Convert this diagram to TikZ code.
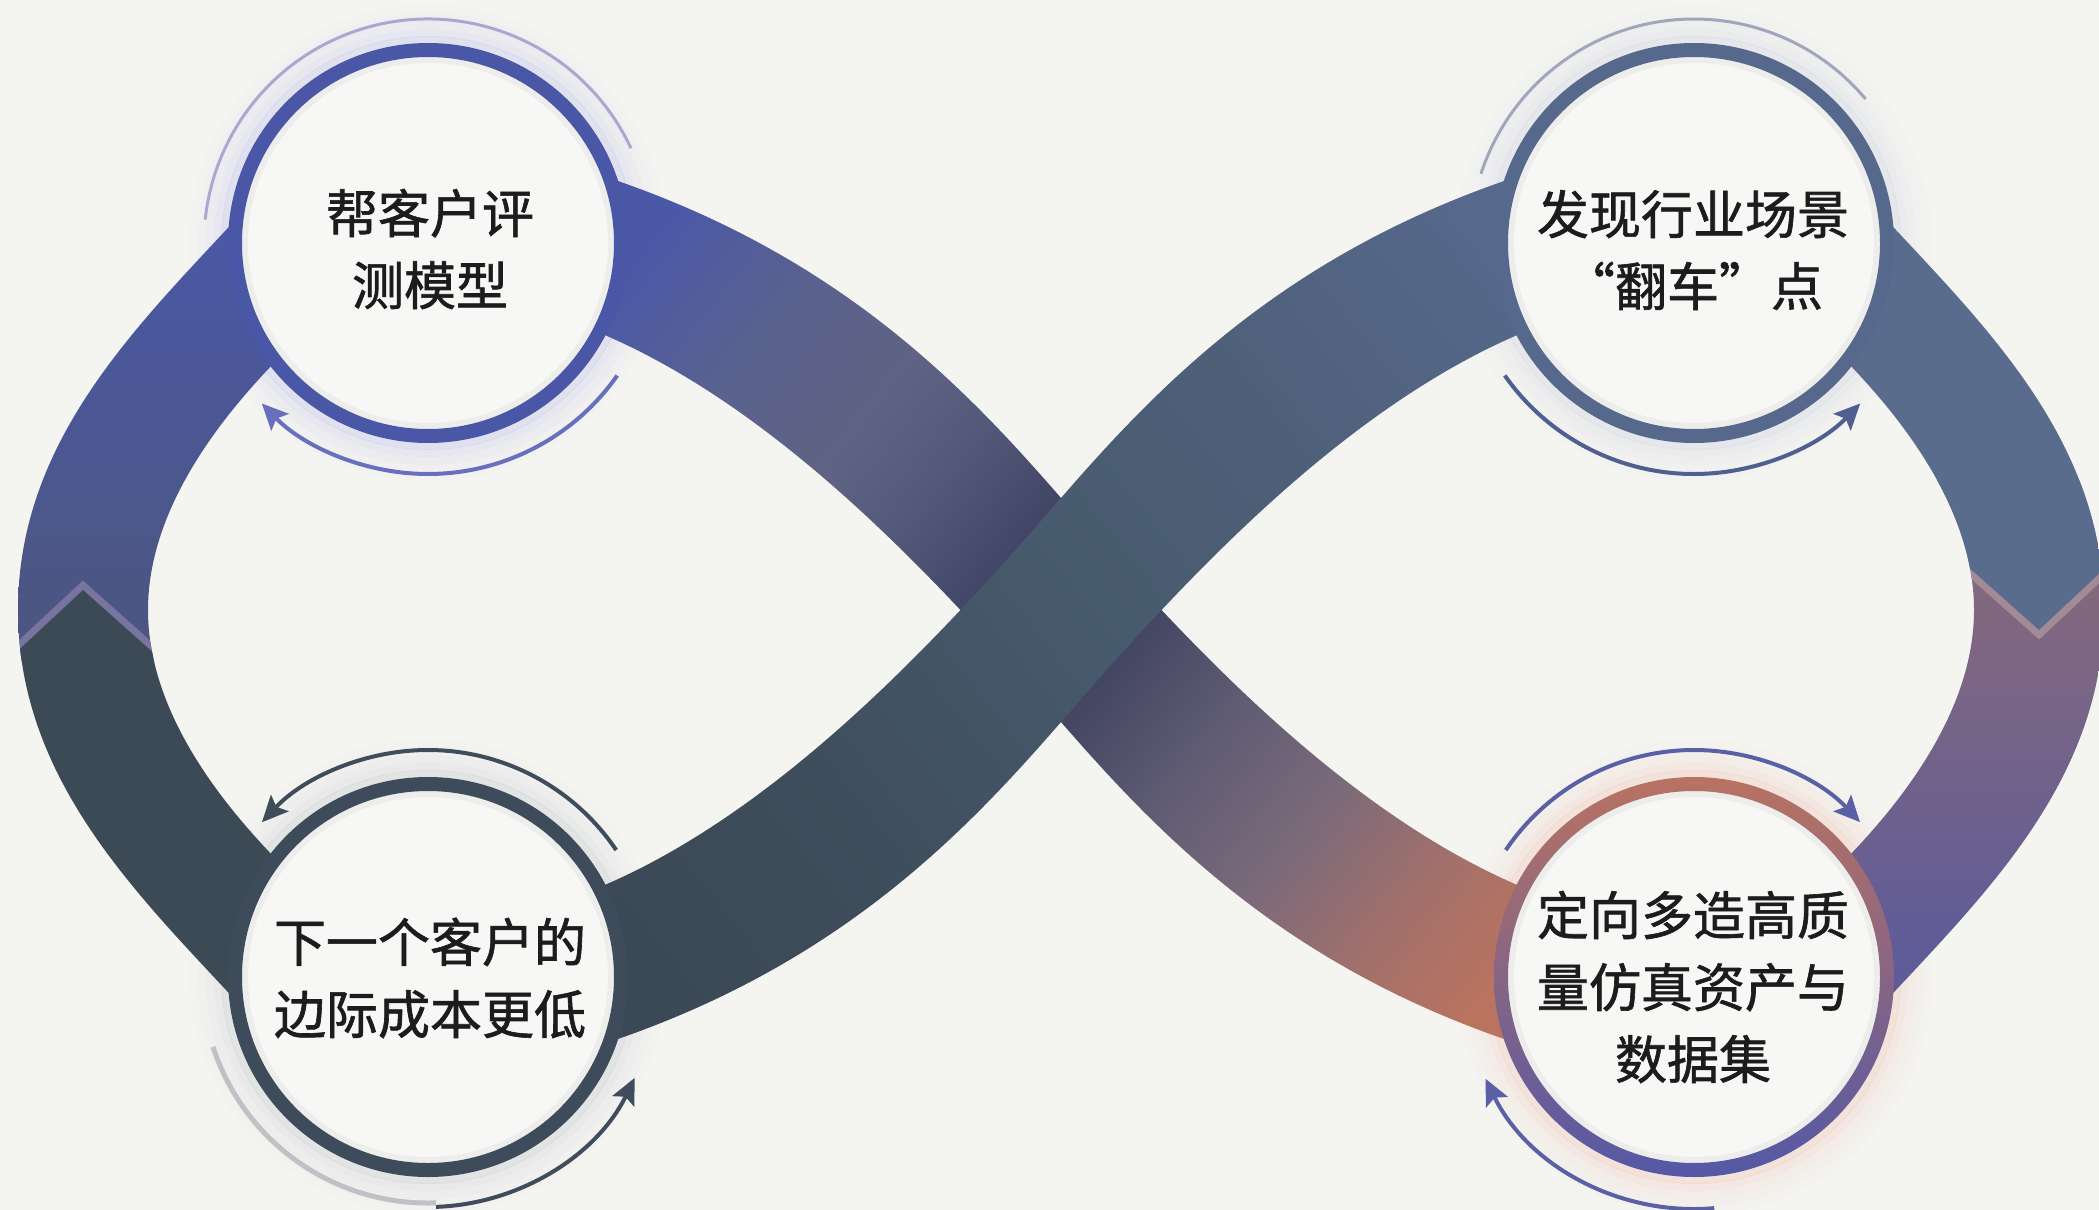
\documentclass[tikz,border=0pt]{standalone}
\usepackage{fontspec}
\newfontfamily\cjk{Noto Sans CJK SC}[FakeBold=1.2]
\usetikzlibrary{arrows.meta}

\definecolor{bg}{HTML}{F4F4F1}
\definecolor{disk}{HTML}{F7F7F5}
\definecolor{txt}{HTML}{1C1C1C}
\definecolor{ringTL}{HTML}{4A56A6}
\definecolor{ringTR}{HTML}{56688C}
\definecolor{ringBL}{HTML}{3E4B5A}
\definecolor{brTop}{HTML}{B87262}
\definecolor{brBot}{HTML}{5558A6}
\definecolor{llA}{HTML}{4B58A8}
\definecolor{llB}{HTML}{4C567E}
\definecolor{llDark}{HTML}{3C4A56}
\definecolor{llHi}{HTML}{77749F}
\definecolor{rlSlate}{HTML}{5A6C8D}
\definecolor{rlA}{HTML}{8E6C76}
\definecolor{rlB}{HTML}{5A5A9C}
\definecolor{rlHi}{HTML}{A38B96}
\definecolor{uA}{HTML}{4B58A8}
\definecolor{uB}{HTML}{5A628E}
\definecolor{uC}{HTML}{5F6383}
\definecolor{uD}{HTML}{535879}
\definecolor{uE}{HTML}{424768}
\definecolor{uEE}{HTML}{444663}
\definecolor{uF}{HTML}{5E5B73}
\definecolor{uG}{HTML}{7A6A7A}
\definecolor{uH}{HTML}{A3706B}
\definecolor{uI}{HTML}{BA735F}
\definecolor{tA}{HTML}{3B4855}
\definecolor{tB}{HTML}{3F4E5C}
\definecolor{tC}{HTML}{465A6C}
\definecolor{tD}{HTML}{4E6079}
\definecolor{tE}{HTML}{56688B}
\definecolor{arTL}{HTML}{6870BE}
\definecolor{arTR}{HTML}{4F5F90}
\definecolor{arBL}{HTML}{3F4C5B}
\definecolor{arBR}{HTML}{5A60A6}
\definecolor{haloTL}{HTML}{A8A8D0}
\definecolor{haloTR}{HTML}{A0A6BC}
\definecolor{haloBL}{HTML}{A9AFB7}
\definecolor{glTL}{HTML}{C9CAEE}
\definecolor{glTR}{HTML}{D3D8E4}
\definecolor{glBL}{HTML}{CDD1D6}
\definecolor{glBR}{HTML}{F2CDBE}

\pgfdeclarehorizontalshading{undersh}{100bp}{color(0bp)=(uA); color(21bp)=(uA); color(29bp)=(uB); color(36bp)=(uC); color(41bp)=(uD); color(46bp)=(uE); color(54bp)=(uEE); color(60bp)=(uF); color(67bp)=(uG); color(74bp)=(uH); color(80bp)=(uI); color(100bp)=(uI)}
\pgfdeclarehorizontalshading{topsh}{100bp}{color(0bp)=(tA); color(21bp)=(tA); color(35bp)=(tB); color(50bp)=(tC); color(65bp)=(tD); color(79bp)=(tE); color(100bp)=(tE)}

\begin{document}
\begin{tikzpicture}[x=1pt,y=-1pt,
  lbl/.style={font=\cjk\fontsize{52}{72}\selectfont, align=center, inner sep=0pt, text=txt},
  disc/.style={circle, minimum size=386pt, inner sep=0pt, line width=14pt, fill=disk},
  arrowarc/.style={line width=4pt, -{Stealth[length=26pt,width=24pt,inset=5pt]}},
  haloarc/.style={line width=3pt},
  glowring/.style={line width=8pt}]

\useasboundingbox (0,0) rectangle (2099,1210);
\fill[bg] (0,0) rectangle (2099,1210);

\coordinate (pTL) at (428,243);
\coordinate (pTR) at (1694,243);
\coordinate (pBL) at (428,977);
\coordinate (pBR) at (1694,977);

% glows
\foreach \r/\o in {203/0.45,210/0.30,218/0.18,226/0.09,234/0.04}{
  \draw[glowring, glTL, opacity=\o] (pTL) circle[radius=\r];
  \draw[glowring, glTR, opacity=\o] (pTR) circle[radius=\r];
  \draw[glowring, glBL, opacity=\o] (pBL) circle[radius=\r];
  \draw[glowring, glBR, opacity=\o] (pBR) circle[radius=\r];
}

% left loop
\begin{scope}
\clip (240,215) .. controls (138,325) and (18,440) .. (18,610) .. controls (18,780) and (138,895) .. (240,1005) -- (275,858) .. controls (219,800) and (148,710) .. (148,610) .. controls (148,510) and (219,420) .. (275,362) -- cycle;
\shade[top color=llA, bottom color=llB] (0,200) rectangle (300,660);
\draw[llHi, line width=14pt] (-200,854) -- (83,590) -- (500,962);
\fill[llDark] (83,590) -- (-200,854) -- (-200,1300) -- (500,1300) -- (500,962) -- cycle;
\end{scope}

% right loop
\begin{scope}
\clip (1882,215) .. controls (1984,325) and (2104,440) .. (2104,610) .. controls (2104,780) and (1984,895) .. (1882,1005) -- (1847,858) .. controls (1903,800) and (1974,710) .. (1974,610) .. controls (1974,510) and (1903,420) .. (1847,362) -- cycle;
\shade[top color=rlA, bottom color=rlB] (1830,480) rectangle (2120,1010);
\draw[rlHi, line width=14pt] (1600,239) -- (2039,630) -- (2300,385);
\fill[rlSlate] (2039,630) -- (1600,239) -- (1600,-100) -- (2300,-100) -- (2300,385) -- cycle;
\end{scope}

% under band TL -> BR
\begin{scope}
\clip (600,175) .. controls (885,268) and (1011,444) .. (1111,555) .. controls (1211,666) and (1356,817) .. (1522,887) -- (1522,1045) .. controls (1237,952) and (1111,776) .. (1011,665) .. controls (911,554) and (766,403) .. (600,333) -- cycle;
\shade[shading=undersh, shading angle=-38.5] (581,130) rectangle (1541,1090);
\end{scope}

% top band BL -> TR
\begin{scope}
\clip (600,1045) .. controls (885,952) and (1011,776) .. (1111,665) .. controls (1211,554) and (1356,403) .. (1522,333) -- (1522,175) .. controls (1237,268) and (1111,444) .. (1011,555) .. controls (911,666) and (766,817) .. (600,887) -- cycle;
\shade[shading=topsh, shading angle=38.5] (581,130) rectangle (1541,1090);
\end{scope}

% circles
\node[disc, draw=ringTL] (cTL) at (pTL) {};
\node[disc, draw=ringTR] (cTR) at (pTR) {};
\node[disc, draw=ringBL] (cBL) at (pBL) {};
\node[disc, draw=none] (cBR) at (pBR) {};
\shade[top color=brTop, bottom color=brBot, even odd rule] (cBR.center) circle[radius=200] (cBR.center) circle[radius=186];
\foreach \c in {cTL,cTR,cBL,cBR}{
  \draw[black, opacity=0.04, line width=6pt] (\c.center) circle[radius=183];
}

% halo arcs
\draw[haloarc, haloTL] (cTL.center) ++(-25:224) arc[start angle=-25, end angle=-174, radius=224];
\draw[haloarc, haloTR] (cTR.center) ++(-40:224) arc[start angle=-40, end angle=-162, radius=224];
\draw[haloarc, haloBL, line width=5pt, opacity=0.7] (cBL.center) ++(162:226) arc[start angle=162, end angle=88, radius=226];

% arrow arcs
\draw[arrowarc, arTL] (cTL.center) ++(35:231) arc[start angle=35, end angle=136, radius=231];
\draw[arrowarc, arTR] (cTR.center) ++(145:231) arc[start angle=145, end angle=44, radius=231];
\draw[arrowarc, arBL] (cBL.center) ++(-34:227) arc[start angle=-34, end angle=-137, radius=227];
\draw[arrowarc, arBL] (cBL.center) ++(88:230) arc[start angle=88, end angle=26, radius=230];
\draw[arrowarc, arBR] (cBR.center) ++(-146:227) arc[start angle=-146, end angle=-43, radius=227];
\draw[arrowarc, arBR] (cBR.center) ++(85:232) arc[start angle=85, end angle=154, radius=232];

% texts
\node[lbl] (tTL) at (430,249) {帮客户评\\测模型};
\node[lbl] (tTR) at (1693,250) {发现行业场景\\\makebox[1em][r]{“}翻车\makebox[1em][l]{”}点};
\node[lbl] (tBL) at (430,978) {下一个客户的\\边际成本更低};
\node[lbl] (tBR) at (1693,987) {定向多造高质\\量仿真资产与\\数据集};
\end{tikzpicture}
\end{document}
